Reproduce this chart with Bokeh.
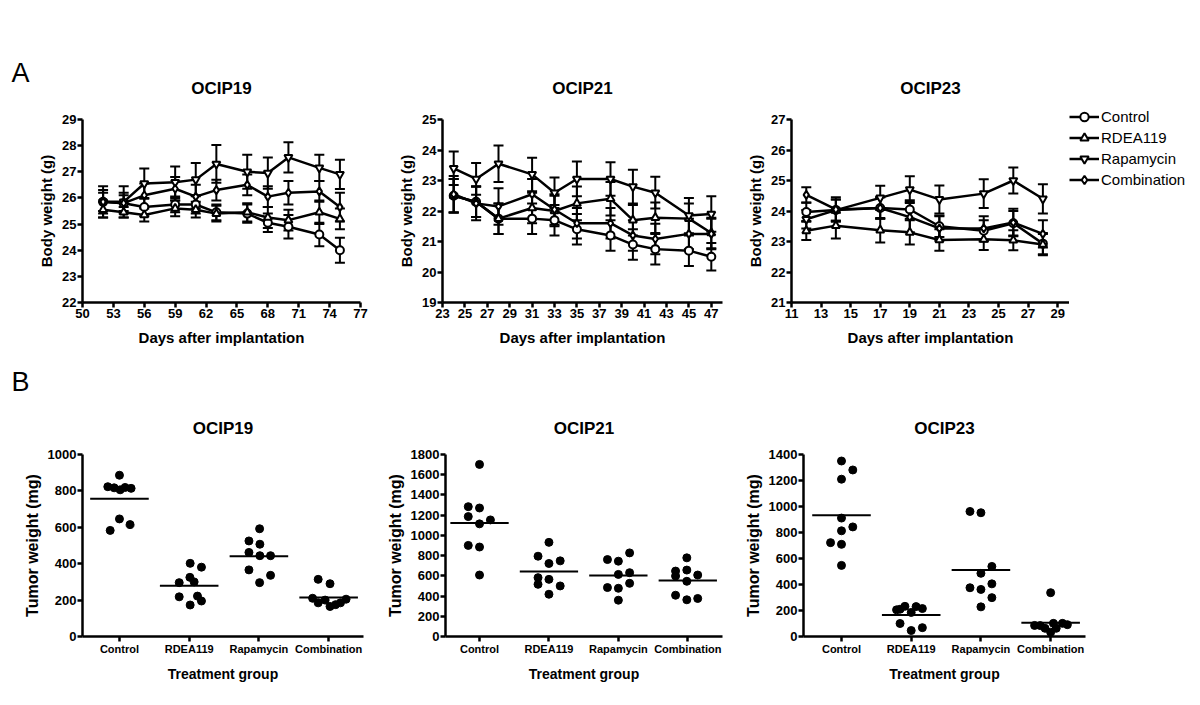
import numpy as np
from bokeh.plotting import figure
from bokeh.models import (Range1d, FixedTicker, Title, Label, Legend, LegendItem,
                          Whisker, TeeHead, ColumnDataSource)
from bokeh.layouts import row, column
from bokeh.embed import file_html
from bokeh.resources import INLINE

FONT = "Liberation Sans"

series_names = ["Control", "RDEA119", "Rapamycin", "Combination"]
series_markers = ["circle", "triangle", "inverted_triangle", "diamond"]

# ---------------- Panel A: body weight (g), mean +/- SEM ----------------
o19_days = [52, 54, 56, 59, 61, 63, 66, 68, 70, 73, 75]
o19_control = [25.85, 25.8, 25.65, 25.75, 25.75, 25.45, 25.4, 25.05, 24.9, 24.6, 24.0]
o19_rdea = [25.55, 25.45, 25.35, 25.6, 25.55, 25.4, 25.45, 25.25, 25.15, 25.45, 25.2]
o19_rapa = [25.85, 25.85, 26.55, 26.6, 26.7, 27.3, 27.0, 26.95, 27.55, 27.15, 26.9]
o19_combo = [25.85, 25.8, 26.1, 26.35, 26.05, 26.3, 26.5, 26.05, 26.2, 26.25, 25.65]
o19_control_sem = [0.35, 0.3, 0.35, 0.3, 0.35, 0.3, 0.35, 0.35, 0.45, 0.45, 0.48]
o19_rdea_sem = [0.3, 0.2, 0.25, 0.3, 0.3, 0.3, 0.35, 0.4, 0.4, 0.45, 0.4]
o19_rapa_sem = [0.6, 0.6, 0.58, 0.6, 0.64, 0.72, 0.65, 0.6, 0.58, 0.5, 0.56]
o19_combo_sem = [0.45, 0.4, 0.45, 0.45, 0.45, 0.4, 0.4, 0.4, 0.45, 0.4, 0.55]

o21_days = [24, 26, 28, 31, 33, 35, 38, 40, 42, 45, 47]
o21_control = [22.5, 22.3, 21.75, 21.75, 21.7, 21.4, 21.2, 20.9, 20.75, 20.7, 20.5]
o21_rdea = [22.5, 22.3, 21.75, 22.1, 22.0, 22.25, 22.4, 21.7, 21.78, 21.75, 21.28]
o21_rapa = [23.4, 23.05, 23.55, 23.2, 22.6, 23.05, 23.05, 22.8, 22.6, 21.85, 21.9]
o21_combo = [22.55, 22.25, 22.15, 22.55, 22.05, 21.6, 21.6, 21.2, 21.08, 21.25, 21.25]
o21_control_sem = [0.55, 0.5, 0.5, 0.5, 0.5, 0.5, 0.5, 0.5, 0.5, 0.5, 0.45]
o21_rdea_sem = [0.55, 0.5, 0.5, 0.5, 0.5, 0.55, 0.55, 0.5, 0.5, 0.5, 0.5]
o21_rapa_sem = [0.55, 0.52, 0.6, 0.55, 0.5, 0.57, 0.55, 0.55, 0.52, 0.58, 0.58]
o21_combo_sem = [0.6, 0.55, 0.6, 0.5, 0.5, 0.5, 0.5, 0.5, 0.5, 0.5, 0.5]

o23_days = [12, 14, 17, 19, 21, 24, 26, 28]
o23_control = [23.97, 24.03, 24.1, 24.05, 23.5, 23.35, 23.6, 22.93]
o23_rdea = [23.35, 23.52, 23.37, 23.3, 23.05, 23.07, 23.04, 22.9]
o23_rapa = [23.73, 24.03, 24.43, 24.7, 24.38, 24.57, 25.0, 24.4]
o23_combo = [24.53, 24.05, 24.1, 23.8, 23.43, 23.43, 23.62, 23.25]
o23_control_sem = [0.3, 0.35, 0.35, 0.3, 0.35, 0.35, 0.4, 0.35]
o23_rdea_sem = [0.3, 0.42, 0.4, 0.4, 0.35, 0.35, 0.33, 0.35]
o23_rapa_sem = [0.3, 0.35, 0.4, 0.44, 0.46, 0.47, 0.43, 0.48]
o23_combo_sem = [0.25, 0.4, 0.35, 0.5, 0.4, 0.4, 0.45, 0.45]

# ---------------- Panel B: tumor weight (mg), individual mice ----------------
categories = ["Control", "RDEA119", "Rapamycin", "Combination"]

t19_control = [886, 823, 817, 806, 819, 814, 646, 615, 583]
t19_rdea = [402, 381, 325, 296, 300, 218, 222, 195, 173]
t19_rapa = [592, 525, 507, 462, 444, 444, 366, 336, 296]
t19_combo = [314, 290, 210, 205, 185, 185, 175, 165, 200]
t19_control_jit = [0, -0.167, -0.076, 0.01, 0.081, 0.167, 0, 0.152, -0.133]
t19_rdea_jit = [0.014, 0.176, 0.01, -0.143, 0.071, -0.143, 0.119, 0.176, 0.014]
t19_rapa_jit = [0.01, -0.143, 0.014, -0.143, 0.014, 0.167, -0.143, 0.167, 0.01]
t19_combo_jit = [-0.15, 0.02, -0.23, 0.25, -0.15, 0.17, 0.1, 0.02, -0.05]

t21_control = [1702, 1284, 1271, 1186, 1114, 1153, 901, 885, 608]
t21_rdea = [931, 794, 722, 748, 582, 565, 516, 500, 418]
t21_rapa = [827, 761, 745, 614, 631, 526, 484, 477, 359]
t21_combo = [778, 647, 657, 598, 608, 546, 408, 363, 376]
t21_control_jit = [0, -0.162, 0, -0.162, 0, 0.157, -0.162, 0, 0]
t21_rdea_jit = [0, -0.157, 0, 0.162, -0.157, 0, -0.157, 0.162, 0]
t21_rapa_jit = [0.162, -0.157, 0, 0, 0.162, 0.162, -0.157, 0, 0]
t21_combo_jit = [-0.014, -0.176, -0.014, -0.176, 0.143, -0.014, -0.176, -0.014, 0.143]

t23_control = [1350, 1281, 1210, 911, 813, 843, 722, 709, 547]
t23_rdea = [232, 230, 215, 210, 185, 100, 68, 46, 205]
t23_rapa = [962, 952, 539, 486, 405, 375, 362, 299, 228]
t23_combo = [337, 101, 84, 101, 63, 63, 91, 33, 85]
t23_control_jit = [0, 0.162, 0, 0, 0, 0.162, -0.157, 0, 0]
t23_rdea_jit = [-0.09, 0.07, 0.16, -0.16, 0.0, -0.16, 0.16, 0.0, -0.21]
t23_rapa_jit = [-0.157, 0, 0.157, 0, 0.157, -0.157, 0, 0.157, 0]
t23_combo_jit = [0, 0.04, -0.15, 0.17, -0.08, 0.08, 0.24, 0, -0.23]


def make_fig(width, height, bl, br, bt, bb, xr, yr, axes=True):
    kw = {} if axes else dict(x_axis_type=None, y_axis_type=None)
    p = figure(width=width, height=height, title=None,
               min_border_left=bl, min_border_right=br,
               min_border_top=bt, min_border_bottom=bb,
               x_range=Range1d(*xr), y_range=Range1d(*yr),
               output_backend="svg", toolbar_location=None, tools="", **kw)
    p.grid.visible = False
    p.outline_line_color = None
    p.background_fill_color = "white"
    p.border_fill_color = "white"
    return p


def style_axes(p, xlab, ylab, xlab_size, ylab_size, xtick_size="13px", xlab_standoff=8):
    for ax in (p.xaxis[0], p.yaxis[0]):
        ax.axis_line_width = 2.5
        ax.axis_line_color = "black"
        ax.major_tick_line_width = 2.5
        ax.major_tick_line_color = "black"
        ax.major_tick_out = 5
        ax.major_tick_in = 0
        ax.minor_tick_line_color = None
        ax.major_label_standoff = 1
        ax.major_label_text_font = FONT
        ax.major_label_text_font_style = "bold"
        ax.major_label_text_font_size = "13px"
        ax.major_label_text_color = "black"
        ax.axis_label_text_font = FONT
        ax.axis_label_text_font_style = "bold"
        ax.axis_label_text_color = "black"
    p.xaxis[0].axis_label = xlab
    p.yaxis[0].axis_label = ylab
    p.xaxis[0].axis_label_text_font_size = xlab_size
    p.yaxis[0].axis_label_text_font_size = ylab_size
    p.xaxis[0].major_label_text_font_size = xtick_size
    p.xaxis[0].axis_label_standoff = xlab_standoff
    p.yaxis[0].axis_label_standoff = 4


def add_title(p, text, standoff):
    p.add_layout(Title(text=text, align="center", text_font=FONT, text_font_style="bold",
                       text_font_size="17px", text_color="black", standoff=standoff), "above")


def body_panel(p, days, vals, sems):
    for marker, v, s in zip(series_markers, vals, sems):
        v = np.array(v, dtype=float)
        s = np.array(s, dtype=float)
        src = ColumnDataSource(dict(x=days, y=v, lower=v - s, upper=v + s))
        w = Whisker(source=src, base="x", lower="lower", upper="upper",
                    line_width=2, line_color="black",
                    upper_head=TeeHead(size=10, line_width=2, line_color="black"),
                    lower_head=TeeHead(size=10, line_width=2, line_color="black"))
        p.add_layout(w)
        p.line("x", "y", source=src, line_width=2.5, line_color="black")
        p.scatter("x", "y", source=src, marker=marker, size=8,
                  fill_color="white", line_color="black", line_width=2)


def tumor_panel(p, vals, jits):
    cats = np.arange(1, len(categories) + 1)
    for c, v, j in zip(cats, vals, jits):
        x = c + np.array(j, dtype=float)
        p.scatter(x, v, marker="circle", size=8, fill_color="black", line_color="black")
        m = float(np.mean(v))
        p.segment(x0=[c - 0.42], x1=[c + 0.42], y0=[m], y1=[m], line_width=2, line_color="black")
    p.xaxis[0].ticker = FixedTicker(ticks=list(cats))
    p.xaxis[0].major_label_overrides = {int(c): n for c, n in zip(cats, categories)}


ROW1_H = 397
ROW2_H = 303

# ---------------- Panel letters (A / B) ----------------
fl = make_fig(32, ROW1_H, 0, 0, 0, 0, (0, 1), (0, 1), axes=False)
for letter, y in (("A", ROW1_H - 72), ("B", ROW1_H - 381)):
    fl.add_layout(Label(x=20, y=y, x_units="screen", y_units="screen", text=letter,
                        text_font=FONT, text_font_size="27px", text_align="center",
                        text_baseline="middle", text_color="black"))

# ---------------- Top row ----------------
f1 = make_fig(350, ROW1_H, 50, 22, 119, 94, (50, 77), (22, 29))
body_panel(f1, o19_days, [o19_control, o19_rdea, o19_rapa, o19_combo],
           [o19_control_sem, o19_rdea_sem, o19_rapa_sem, o19_combo_sem])
style_axes(f1, "Days after implantation", "Body weight (g)", "15px", "15px")
f1.xaxis[0].ticker = FixedTicker(ticks=list(range(50, 78, 3)))
f1.yaxis[0].ticker = FixedTicker(ticks=list(range(22, 30)))
add_title(f1, "OCIP19", 44)

f2 = make_fig(349, ROW1_H, 60, 9, 119, 95, (23, 48), (19, 25))
body_panel(f2, o21_days, [o21_control, o21_rdea, o21_rapa, o21_combo],
           [o21_control_sem, o21_rdea_sem, o21_rapa_sem, o21_combo_sem])
style_axes(f2, "Days after implantation", "Body weight (g)", "15px", "15px")
f2.xaxis[0].ticker = FixedTicker(ticks=list(range(23, 48, 2)))
f2.yaxis[0].ticker = FixedTicker(ticks=list(range(19, 26)))
add_title(f2, "OCIP21", 44)

f3 = make_fig(338, ROW1_H, 60, 0, 119, 95, (11, 29.8), (21, 27))
body_panel(f3, o23_days, [o23_control, o23_rdea, o23_rapa, o23_combo],
           [o23_control_sem, o23_rdea_sem, o23_rapa_sem, o23_combo_sem])
style_axes(f3, "Days after implantation", "Body weight (g)", "15px", "15px")
f3.xaxis[0].ticker = FixedTicker(ticks=list(range(11, 30, 2)))
f3.yaxis[0].ticker = FixedTicker(ticks=list(range(21, 28)))
add_title(f3, "OCIP23", 44)

# legend panel (key for the body-weight series)
fk = make_fig(127, ROW1_H, 0, 0, 0, 0, (0, 1), (0, 1), axes=False)
items = []
for name, marker in zip(series_names, series_markers):
    ln = fk.line([np.nan], [np.nan], line_width=2.5, line_color="black")
    mk = fk.scatter([np.nan], [np.nan], marker=marker, size=7, fill_color="white",
                    line_color="black", line_width=2)
    items.append(LegendItem(label=name, renderers=[ln, mk]))
legend = Legend(items=items, location=(0, ROW1_H - 190), glyph_width=30, glyph_height=21,
                label_height=21, label_standoff=2, padding=0, margin=0, spacing=0,
                border_line_color=None, background_fill_alpha=0,
                label_text_font=FONT, label_text_font_size="15px", label_text_color="black")
fk.add_layout(legend)

# ---------------- Bottom row ----------------
f4 = make_fig(383, ROW2_H, 82, 20, 55, 63, (0.47, 4.5), (0, 1000))
tumor_panel(f4, [t19_control, t19_rdea, t19_rapa, t19_combo],
            [t19_control_jit, t19_rdea_jit, t19_rapa_jit, t19_combo_jit])
style_axes(f4, "Treatment group", "Tumor weight (mg)", "14px", "16px", "11px")
f4.yaxis[0].ticker = FixedTicker(ticks=list(range(0, 1001, 200)))
add_title(f4, "OCIP19", 34)

f5 = make_fig(357, ROW2_H, 60, 18, 57, 62, (0.51, 4.5), (0, 1800))
tumor_panel(f5, [t21_control, t21_rdea, t21_rapa, t21_combo],
            [t21_control_jit, t21_rdea_jit, t21_rapa_jit, t21_combo_jit])
style_axes(f5, "Treatment group", "Tumor weight (mg)", "14px", "16px", "11px")
f5.yaxis[0].ticker = FixedTicker(ticks=list(range(0, 1801, 200)))
add_title(f5, "OCIP21", 33)

f6 = make_fig(456, ROW2_H, 63, 111, 55, 64, (0.455, 4.5), (0, 1400))
tumor_panel(f6, [t23_control, t23_rdea, t23_rapa, t23_combo],
            [t23_control_jit, t23_rdea_jit, t23_rapa_jit, t23_combo_jit])
style_axes(f6, "Treatment group", "Tumor weight (mg)", "14px", "16px", "11px")
f6.yaxis[0].ticker = FixedTicker(ticks=list(range(0, 1401, 200)))
add_title(f6, "OCIP23", 34)

layout = column(row(column(fl), f1, f2, f3, column(fk), spacing=0),
                row(f4, f5, f6, spacing=0), spacing=0)

open("out.html", "w").write(file_html(layout, INLINE))
